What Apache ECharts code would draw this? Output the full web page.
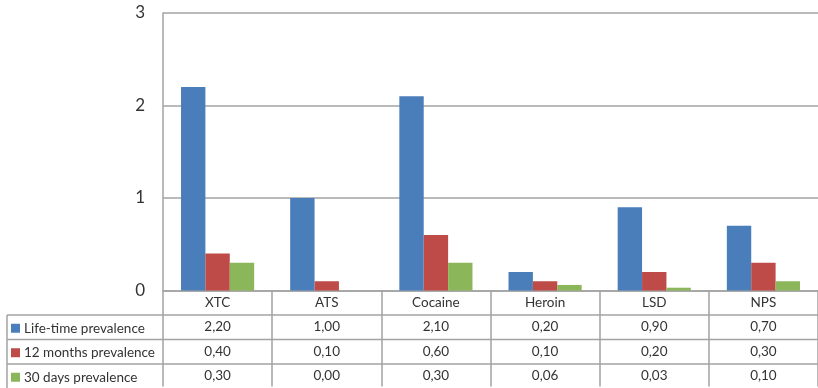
<!DOCTYPE html>
<html>
<head>
<meta charset="utf-8">
<script src="https://cdn.jsdelivr.net/npm/echarts@6/dist/echarts.min.js"></script>
<style>
  html, body { margin: 0; padding: 0; background: #fff; }
  #chart { width: 818px; height: 388px; }
</style>
</head>
<body>
<div id="chart"></div>
<script>
// Drug categories and prevalence series (percent)
const categories = ['XTC', 'ATS', 'Cocaine', 'Heroin', 'LSD', 'NPS'];
const seriesNames = ['Life-time prevalence', '12 months prevalence', '30 days prevalence'];
const lifetime = [2.20, 1.00, 2.10, 0.20, 0.90, 0.70];
const months12 = [0.40, 0.10, 0.60, 0.10, 0.20, 0.30];
const days30 = [0.30, 0.00, 0.30, 0.06, 0.03, 0.10];
const yTicks = [0, 1, 2, 3];

const seriesValues = [lifetime, months12, days30];
const colors = ['#4a7ebb', '#be4b48', '#8cb65a'];
const lineColor = '#a3a3a3';
const fontFamily = 'Lato, "Open Sans", sans-serif';
const tableFontSize = 13.5;

// Layout of the plot area and the data table underneath it
const plotLeft = 163, plotTop = 13, plotWidth = 658, plotHeight = 279;
const tableLeft = 7, tableRight = 818;
const headerH = 23, rowH = 24.5;
const tableTop = plotTop + plotHeight;

const fmt = v => v.toFixed(2).replace('.', ',');

const chart = echarts.init(document.getElementById('chart'));

// Horizontal row separators of the table plus its left border
const tableLines = [];
for (let r = 0; r < seriesNames.length; r++) {
  const y = tableTop + headerH + r * rowH;
  tableLines.push({
    type: 'line',
    shape: { x1: tableLeft, y1: y, x2: tableRight, y2: y },
    style: { stroke: lineColor, lineWidth: 1.5 },
    silent: true
  });
}
tableLines.push({
  type: 'line',
  shape: { x1: tableLeft, y1: tableTop + headerH, x2: tableLeft, y2: 388 },
  style: { stroke: lineColor, lineWidth: 1.5 },
  silent: true
});

// One legend per table row, acting as the row header
const legends = seriesNames.map((name, r) => ({
  orient: 'vertical',
  left: 11,
  top: tableTop + headerH + r * rowH + (rowH - 16) / 2 + 1,
  padding: 0,
  itemWidth: 9,
  itemHeight: 9,
  itemGap: 4,
  icon: 'rect',
  selectedMode: false,
  data: [name],
  textStyle: { fontFamily: fontFamily, fontSize: tableFontSize, color: '#333', height: 16, lineHeight: 16, padding: [0, 0, 0, -1] }
}));

chart.setOption({
  animation: false,
  textStyle: { fontFamily: fontFamily },
  grid: { left: plotLeft, top: plotTop, width: plotWidth, height: plotHeight, containLabel: false },
  legend: legends,
  xAxis: {
    type: 'category',
    data: categories,
    axisLine: { show: true, lineStyle: { color: lineColor, width: 1.5 } },
    axisTick: { show: true, interval: 0, length: 96, lineStyle: { color: lineColor, width: 1.5 } },
    axisLabel: {
      interval: 0,
      margin: 1,
      formatter: function (value, idx) {
        const lines = ['{c|' + value + '}'];
        seriesValues.forEach(arr => lines.push('{v|' + fmt(arr[idx]) + '}'));
        return lines.join('\n');
      },
      rich: {
        c: { fontFamily: fontFamily, fontSize: tableFontSize, color: '#333', lineHeight: headerH, height: headerH },
        v: { fontFamily: fontFamily, fontSize: tableFontSize, color: '#333', lineHeight: rowH, height: rowH }
      }
    }
  },
  yAxis: {
    type: 'value',
    min: yTicks[0],
    max: yTicks[yTicks.length - 1],
    interval: 1,
    axisLine: { show: true, lineStyle: { color: lineColor, width: 1.5 } },
    axisTick: { show: false },
    axisLabel: { fontFamily: fontFamily, fontSize: 17, color: '#333', margin: 18 },
    splitLine: { show: true, lineStyle: { color: lineColor, width: 1.5 } }
  },
  series: seriesNames.map((name, i) => ({
    name: name,
    type: 'bar',
    data: seriesValues[i],
    barGap: '0%',
    barCategoryGap: '33%',
    itemStyle: { color: colors[i] }
  })),
  graphic: tableLines
});
</script>
</body>
</html>
